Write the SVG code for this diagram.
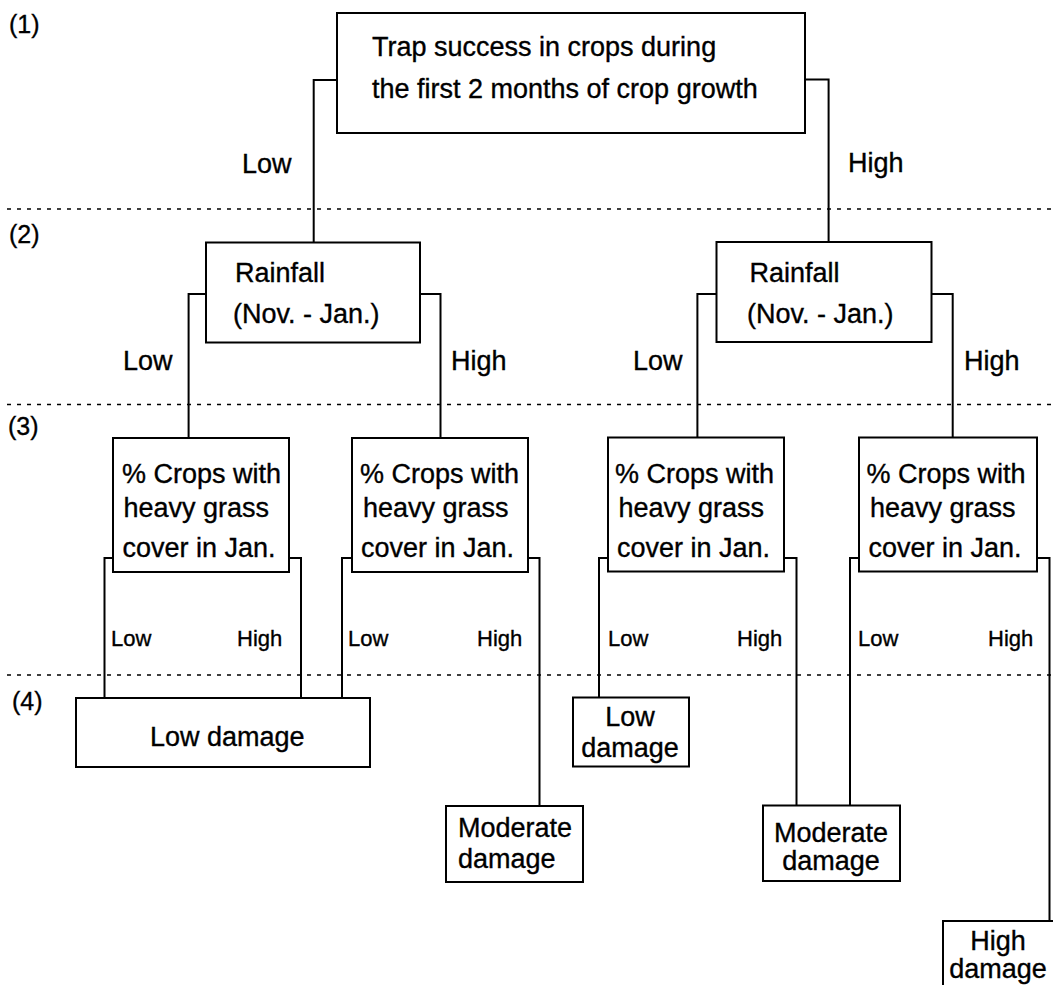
<svg xmlns="http://www.w3.org/2000/svg" width="1053" height="985" viewBox="0 0 1053 985">
<style>
  .bg { fill: #ffffff; }
  .box { fill: #ffffff; stroke: #000000; stroke-width: 2; }
  .con { fill: none; stroke: #000000; stroke-width: 2; stroke-linecap: square; stroke-linejoin: miter; }
  .div { fill: none; stroke: #000000; stroke-width: 1.6; stroke-dasharray: 4 6; }
  text { font-family: "Liberation Sans", Arial, Helvetica, sans-serif; fill: #000000; stroke: #000000; stroke-width: 0.35; }
  .t { font-size: 27px; }
  .s { font-size: 22px; }
  .lv { font-size: 25px; }
  .mid { text-anchor: middle; }
</style>
<rect class="bg" x="0" y="0" width="1053" height="985"/>

<g id="levels">
  <line class="div" x1="7" y1="209" x2="1053" y2="209"/>
  <line class="div" x1="7" y1="404.5" x2="1053" y2="404.5"/>
  <line class="div" x1="7" y1="675" x2="1053" y2="675"/>
  <text class="lv" x="9" y="33">(1)</text>
  <text class="lv" x="9" y="243">(2)</text>
  <text class="lv" x="8" y="435">(3)</text>
  <text class="lv" x="12" y="710">(4)</text>
</g>

<g id="connectors">
  <polyline class="con" points="337,80 313.7,80 313.7,242.5"/>
  <polyline class="con" points="805,79.5 828.6,79.5 828.6,242"/>
  <polyline class="con" points="206,294 188.6,294 188.6,438"/>
  <polyline class="con" points="420,294 440.5,294 440.5,438"/>
  <polyline class="con" points="716.5,294 697.4,294 697.4,438"/>
  <polyline class="con" points="931.5,294 952.7,294 952.7,438"/>
  <polyline class="con" points="113,558 104.5,558 104.5,698"/>
  <polyline class="con" points="289,558 301,558 301,698"/>
  <polyline class="con" points="352,558 342,558 342,698"/>
  <polyline class="con" points="528,558 539.5,558 539.5,806"/>
  <polyline class="con" points="608,558 599,558 599,697.5"/>
  <polyline class="con" points="784,558 796.5,558 796.5,805.5"/>
  <polyline class="con" points="859,558 850,558 850,805.5"/>
  <polyline class="con" points="1037,558 1049.5,558 1049.5,921"/>
  <text class="t" x="242" y="173">Low</text>
  <text class="t" x="848" y="172">High</text>
  <text class="t" x="123" y="370">Low</text>
  <text class="t" x="451" y="370">High</text>
  <text class="t" x="633" y="370">Low</text>
  <text class="t" x="964" y="370">High</text>
  <text class="s" x="111" y="646">Low</text>
  <text class="s" x="237" y="646">High</text>
  <text class="s" x="348" y="646">Low</text>
  <text class="s" x="477" y="646">High</text>
  <text class="s" x="608" y="646">Low</text>
  <text class="s" x="737" y="646">High</text>
  <text class="s" x="858" y="646">Low</text>
  <text class="s" x="988" y="646">High</text>
</g>

<g id="trap">
  <rect class="box" x="337" y="13" width="468" height="120"/>
  <text class="t" x="372" y="56">Trap success in crops during</text>
  <text class="t" x="372" y="98">the first 2 months of crop growth</text>
</g>

<g id="rainfall-low">
  <rect class="box" x="206" y="242.5" width="214" height="100"/>
  <text class="t" x="235" y="282">Rainfall</text>
  <text class="t" x="233" y="323">(Nov. - Jan.)</text>
</g>

<g id="rainfall-high">
  <rect class="box" x="716.5" y="242" width="215" height="100"/>
  <text class="t" x="749.5" y="282">Rainfall</text>
  <text class="t" x="747" y="323">(Nov. - Jan.)</text>
</g>

<g id="grass-1">
  <rect class="box" x="113" y="438" width="176" height="134"/>
  <text class="t" x="122" y="483">% Crops with</text>
  <text class="t" x="123.5" y="517">heavy grass</text>
  <text class="t" x="122.5" y="557">cover in Jan.</text>
</g>

<g id="grass-2">
  <rect class="box" x="352" y="438" width="176" height="134"/>
  <text class="t" x="360" y="483">% Crops with</text>
  <text class="t" x="363" y="517">heavy grass</text>
  <text class="t" x="361" y="557">cover in Jan.</text>
</g>

<g id="grass-3">
  <rect class="box" x="608" y="437.5" width="176" height="134"/>
  <text class="t" x="615" y="483">% Crops with</text>
  <text class="t" x="618.5" y="517">heavy grass</text>
  <text class="t" x="617" y="557">cover in Jan.</text>
</g>

<g id="grass-4">
  <rect class="box" x="859" y="437.5" width="178" height="134"/>
  <text class="t" x="866.5" y="483">% Crops with</text>
  <text class="t" x="870" y="517">heavy grass</text>
  <text class="t" x="868.5" y="557">cover in Jan.</text>
</g>

<g id="low-damage-1">
  <rect class="box" x="76" y="698" width="294" height="69"/>
  <text class="t" x="150" y="746">Low damage</text>
</g>

<g id="low-damage-2">
  <rect class="box" x="573" y="697.5" width="116" height="69"/>
  <text class="t mid" x="630" y="726">Low</text>
  <text class="t mid" x="630" y="757">damage</text>
</g>

<g id="moderate-damage-1">
  <rect class="box" x="446" y="806" width="137" height="76"/>
  <text class="t" x="458" y="837">Moderate</text>
  <text class="t" x="458" y="868">damage</text>
</g>

<g id="moderate-damage-2">
  <rect class="box" x="763" y="805.5" width="137" height="75.5"/>
  <text class="t mid" x="831" y="842">Moderate</text>
  <text class="t mid" x="831" y="870">damage</text>
</g>

<g id="high-damage">
  <rect class="box" x="943" y="921" width="115" height="80"/>
  <text class="t mid" x="998" y="950">High</text>
  <text class="t mid" x="998" y="978">damage</text>
</g>
</svg>
